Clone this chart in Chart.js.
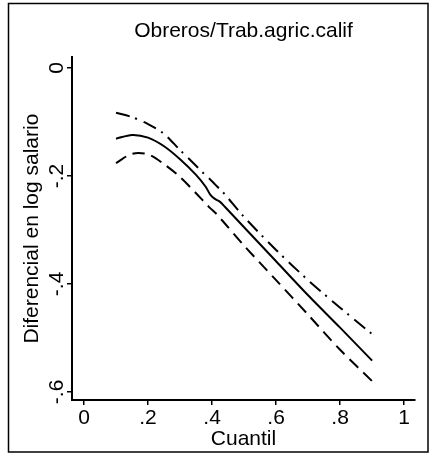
<!DOCTYPE html>
<html>
<head>
<meta charset="utf-8">
<script src="https://cdn.jsdelivr.net/npm/chart.js@4/dist/chart.umd.min.js"></script>
<style>
  html, body { margin: 0; padding: 0; background: #fff; }
  #wrap { width: 431px; height: 462px; }
</style>
</head>
<body>
<div id="wrap"><canvas id="chart" width="431" height="462"></canvas></div>
<script>
const quantiles = [0.1, 0.15, 0.2, 0.25, 0.3, 0.35, 0.38, 0.395, 0.41, 0.425, 0.44, 0.5, 0.6, 0.7, 0.8, 0.9];
// point estimate (solid)
const estimate = [-0.131, -0.124, -0.129, -0.145, -0.169, -0.198, -0.220, -0.235, -0.243, -0.248, -0.257, -0.295, -0.358, -0.421, -0.481, -0.542];
// lower band (dashed)
const lowerBand = [-0.176, -0.159, -0.160, -0.178, -0.202, -0.232, -0.251, -0.260, -0.268, -0.278, -0.288, -0.329, -0.393, -0.457, -0.522, -0.580];
// upper band (dash-dot)
const upperBand = [-0.083, -0.091, -0.104, -0.122, -0.152, -0.181, -0.199, -0.207, -0.216, -0.225, -0.234, -0.276, -0.337, -0.393, -0.444, -0.493];

const xTicks = [0, 0.2, 0.4, 0.6, 0.8, 1];
const xTickLabels = ['0', '.2', '.4', '.6', '.8', '1'];
const yTicks = [0, -0.2, -0.4, -0.6];
const yTickLabels = ['0', '-.2', '-.4', '-.6'];

const FONT = '"Liberation Sans", Arial, Helvetica, sans-serif';

function toPoints(ys) {
  return quantiles.map((q, i) => ({ x: q, y: ys[i] }));
}

// frame around the whole figure + rotated y tick labels
const extras = {
  id: 'extras',
  afterDraw(chart) {
    const c = chart.ctx;
    const ys = chart.scales.y;
    c.save();
    c.strokeStyle = '#000';
    c.lineWidth = 1.5;
    c.strokeRect(8.5, 3.5, 419.5, 448.5);

    c.fillStyle = '#000';
    c.font = '21px ' + FONT;
    c.textAlign = 'center';
    c.textBaseline = 'middle';
    yTicks.forEach((v, i) => {
      const py = ys.getPixelForValue(v);
      c.save();
      c.translate(57, py);
      c.rotate(-Math.PI / 2);
      c.fillText(yTickLabels[i], 0, 0);
      c.restore();
    });
    c.restore();
  }
};

new Chart(document.getElementById('chart'), {
  type: 'line',
  data: {
    datasets: [
      {
        data: toPoints(upperBand),
        borderColor: '#000',
        borderWidth: 2,
        borderDash: [14, 6, 2, 7],
        pointRadius: 0,
        tension: 0.3,
        fill: false
      },
      {
        data: toPoints(estimate),
        borderColor: '#000',
        borderWidth: 2,
        pointRadius: 0,
        tension: 0.3,
        fill: false
      },
      {
        data: toPoints(lowerBand),
        borderColor: '#000',
        borderWidth: 2,
        borderDash: [12, 7],
        pointRadius: 0,
        tension: 0.3,
        fill: false
      }
    ]
  },
  options: {
    responsive: false,
    animation: false,
    parsing: false,
    layout: { padding: { left: 0, right: 16, top: 0, bottom: 0 } },
    plugins: {
      legend: { display: false },
      tooltip: { enabled: false },
      title: {
        display: true,
        fullSize: false,
        text: 'Obreros/Trab.agric.calif',
        color: '#000',
        font: { family: FONT, size: 21, weight: 'normal' },
        padding: { top: 19, bottom: 13 }
      }
    },
    scales: {
      x: {
        type: 'linear',
        min: -0.0375,
        max: 1.034,
        afterBuildTicks: s => { s.ticks = xTicks.map(v => ({ value: v })); },
        afterFit: s => { s.height = 62; },
        grid: { drawOnChartArea: false, drawTicks: true, tickLength: 5, color: '#000', lineWidth: 1.5 },
        border: { display: true, color: '#000', width: 2 },
        ticks: {
          color: '#000',
          font: { family: FONT, size: 21, lineHeight: 1 },
          padding: 3,
          maxRotation: 0,
          autoSkip: false,
          callback: v => {
            const i = xTicks.findIndex(t => Math.abs(t - v) < 1e-9);
            return i >= 0 ? xTickLabels[i] : '';
          }
        },
        title: {
          display: true,
          text: 'Cuantil',
          color: '#000',
          font: { family: FONT, size: 21, weight: 'normal' },
          padding: { top: 0, bottom: 10 }
        }
      },
      y: {
        type: 'linear',
        min: -0.615,
        max: 0.02,
        afterBuildTicks: s => { s.ticks = yTicks.map(v => ({ value: v })); },
        afterFit: s => { s.width = 72; },
        grid: { drawOnChartArea: false, drawTicks: true, tickLength: 5, color: '#000', lineWidth: 1.5 },
        border: { display: true, color: '#000', width: 2 },
        ticks: { display: false },
        title: {
          display: true,
          text: 'Diferencial en log salario',
          color: '#000',
          font: { family: FONT, size: 21, weight: 'normal' },
          padding: { top: 20, bottom: 0 }
        }
      }
    }
  },
  plugins: [extras]
});
</script>
</body>
</html>
